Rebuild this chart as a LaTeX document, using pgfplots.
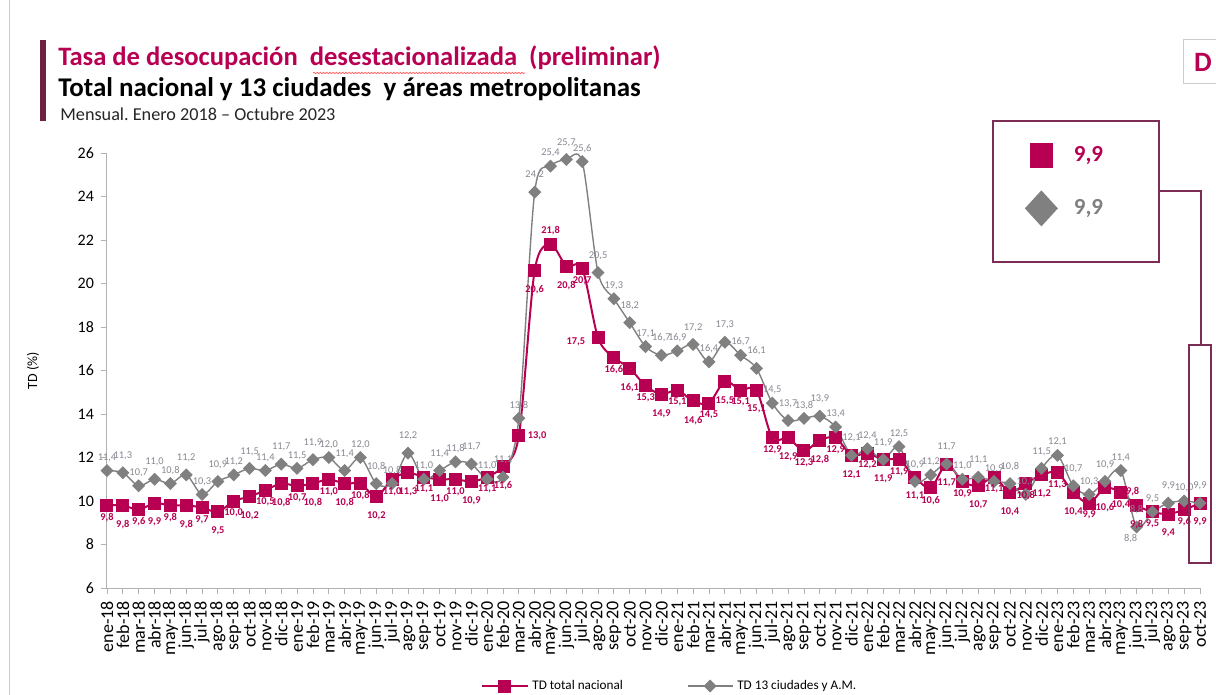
\documentclass[border=0pt]{standalone}
\usepackage{fontspec}
\setmainfont{Carlito}
\usepackage{pgfplots}
\pgfplotsset{compat=1.18}
\usepackage{pgfplotstable}
\usetikzlibrary{decorations.pathmorphing}
\definecolor{crim}{RGB}{184,0,82}
\definecolor{grayl}{RGB}{128,128,128}
\definecolor{lblgray}{RGB}{135,135,145}
\definecolor{maroon}{RGB}{125,45,85}
\definecolor{barc}{RGB}{110,33,66}
\pgfkeys{/pgf/number format/assume math mode=true}
\frenchspacing

\pgfplotstableread{
x tn c13
0 9.8 11.4
1 9.8 11.3
2 9.6 10.7
3 9.9 11.0
4 9.8 10.8
5 9.8 11.2
6 9.7 10.3
7 9.5 10.9
8 10.0 11.2
9 10.2 11.5
10 10.5 11.4
11 10.8 11.7
12 10.7 11.5
13 10.8 11.9
14 11.0 12.0
15 10.8 11.4
16 10.8 12.0
17 10.2 10.8
18 11.0 10.8
19 11.3 12.2
20 11.1 11.0
21 11.0 11.4
22 11.0 11.8
23 10.9 11.7
24 11.1 11.0
25 11.6 11.1
26 13.0 13.8
27 20.6 24.2
28 21.8 25.4
29 20.8 25.7
30 20.7 25.6
31 17.5 20.5
32 16.6 19.3
33 16.1 18.2
34 15.3 17.1
35 14.9 16.7
36 15.1 16.9
37 14.6 17.2
38 14.5 16.4
39 15.5 17.3
40 15.1 16.7
41 15.1 16.1
42 12.9 14.5
43 12.9 13.7
44 12.3 13.8
45 12.8 13.9
46 12.9 13.4
47 12.1 12.1
48 12.2 12.4
49 11.9 11.9
50 11.9 12.5
51 11.1 10.9
52 10.6 11.2
53 11.7 11.7
54 10.9 11.0
55 10.7 11.1
56 11.1 10.9
57 10.4 10.8
58 10.8 10.3
59 11.2 11.5
60 11.3 12.1
61 10.4 10.7
62 9.9 10.3
63 10.6 10.9
64 10.4 11.4
65 9.8 8.8
66 9.5 9.5
67 9.4 9.9
68 9.6 10.0
69 9.9 9.9
}\datatab

\pgfplotsset{
  lblbase/.style={draw=none, mark=none, forget plot,
    nodes near coords={\pgfmathprintnumber[fixed,fixed zerofill,precision=1,use comma]{\pgfplotspointmeta}}},
  tnlbl/.style={lblbase,
    every node near coord/.append style={text=crim, font=\bfseries\fontsize{5.2}{6}\selectfont, inner sep=0.3pt}},
  cclbl/.style={lblbase,
    every node near coord/.append style={text=lblgray, font=\fontsize{5.2}{6}\selectfont, inner sep=0.3pt, anchor=south}},
}

\begin{document}
\begin{tikzpicture}
\path[use as bounding box] (0,0) rectangle (608pt,-347.5pt);

\begin{axis}[
  at={(53.5pt,-294pt)}, anchor=south west,
  scale only axis, width=546.5pt, height=217.5pt,
  xmin=0, xmax=69, ymin=6, ymax=26,
  axis x line*=bottom, axis y line*=left,
  axis line style={draw=gray!60, line width=0.5pt, -},
  tick style={draw=gray!60, line width=0.4pt},
  tick align=outside, major tick length=3pt,
  xtick={0,...,69},
  xticklabels={ene-18,feb-18,mar-18,abr-18,may-18,jun-18,jul-18,ago-18,sep-18,oct-18,nov-18,dic-18,
    ene-19,feb-19,mar-19,abr-19,may-19,jun-19,jul-19,ago-19,sep-19,oct-19,nov-19,dic-19,
    ene-20,feb-20,mar-20,abr-20,may-20,jun-20,jul-20,ago-20,sep-20,oct-20,nov-20,dic-20,
    ene-21,feb-21,mar-21,abr-21,may-21,jun-21,jul-21,ago-21,sep-21,oct-21,nov-21,dic-21,
    ene-22,feb-22,mar-22,abr-22,may-22,jun-22,jul-22,ago-22,sep-22,oct-22,nov-22,dic-22,
    ene-23,feb-23,mar-23,abr-23,may-23,jun-23,jul-23,ago-23,sep-23,oct-23},
  xticklabel style={rotate=90, anchor=east, font=\fontsize{9}{10}\selectfont},
  ytick={6,8,...,26},
  yticklabel style={font=\fontsize{8}{9}\selectfont},
  ylabel={TD (\%)},
  ylabel style={at={(axis description cs:-0.0677,0.5)}, anchor=center, font=\fontsize{7}{8}\selectfont},
  clip=false,
  legend columns=2,
  legend style={at={(0.3367,-0.2253)}, anchor=west, draw=none, fill=none,
    font=\fontsize{6.6}{7}\selectfont,
    /tikz/every even column/.append style={column sep=30pt}},
  legend image code/.code={\draw[mark repeat=2,mark phase=2,#1] plot coordinates {(0pt,0pt)(11.25pt,0pt)(22.5pt,0pt)};},
]
\addplot[crim, line width=1pt, smooth, tension=0.5, mark=square*, mark size=2.75pt,
  mark options={solid, fill=crim, draw=crim}]
  table[x=x, y=tn] {\datatab};
\addlegendentry{TD total nacional}
\addplot[grayl, line width=0.7pt, smooth, tension=0.5, mark=square*, mark size=1.95pt,
  mark options={solid, fill=grayl, draw=grayl, rotate=45}]
  table[x=x, y=c13] {\datatab};
\addlegendentry{TD 13 ciudades y A.M.}
% labels of the 13-city series
\addplot[cclbl, x filter/.expression={(mod(x,2)==1 || x==65) ? nan : x},
  every node near coord/.append style={yshift=4pt}]
  table[x=x, y=c13] {\datatab};
\addplot[cclbl, x filter/.expression={(mod(x,2)==0) ? nan : x},
  every node near coord/.append style={yshift=6pt}]
  table[x=x, y=c13] {\datatab};
\addplot[cclbl, every node near coord/.append style={anchor=north, yshift=-3pt, xshift=-3pt}]
  coordinates {(65,8.8)};
% labels of the national series
\addplot[tnlbl, x filter/.expression={(mod(x,2)==1 || x==26 || x==28 || x==65) ? nan : x},
  every node near coord/.append style={anchor=north, yshift=-3.5pt}]
  table[x=x, y=tn] {\datatab};
\addplot[tnlbl, x filter/.expression={(mod(x,2)==0 || x==31) ? nan : x},
  every node near coord/.append style={anchor=north, yshift=-7pt}]
  table[x=x, y=tn] {\datatab};
\addplot[tnlbl, every node near coord/.append style={anchor=west, xshift=4pt}]
  coordinates {(26,13.0)};
\addplot[tnlbl, every node near coord/.append style={anchor=south, yshift=4pt}]
  coordinates {(28,21.8)};
\addplot[tnlbl, every node near coord/.append style={anchor=east, xshift=-6pt, yshift=-2pt}]
  coordinates {(31,17.5)};
\addplot[tnlbl, every node near coord/.append style={anchor=south, yshift=4pt, xshift=-2pt}]
  coordinates {(65,9.8)};
\end{axis}

\begin{axis}[
  at={(53.5pt,-294pt)}, anchor=south west,
  scale only axis, width=546.5pt, height=217.5pt,
  xmin=0, xmax=69, ymin=6, ymax=26, hide axis,
  legend cell align=left,
  legend style={at={(0.8394,1.0414)}, anchor=north west, draw=none, fill=none,
    font=\bfseries\fontsize{11.5}{12}\selectfont, row sep=6.5pt, inner sep=0pt,
    /tikz/every odd column/.append style={column sep=6pt}},
]
\addplot[draw=none, legend image code/.code={\path (-8.25pt,-10pt) rectangle (8.25pt,10pt); \fill[crim] (-5.75pt,-6.4pt) rectangle (5.75pt,6.4pt);}]
  coordinates {(69,9.9)};
\addlegendentry{\textcolor{crim}{9,9}}
\addplot[draw=none, legend image code/.code={\path (-8.25pt,-10pt) rectangle (8.25pt,10pt); \fill[grayl] (0,-9pt) -- (8.25pt,0) -- (0,9pt) -- (-8.25pt,0) -- cycle;}]
  coordinates {(69,9.9)};
\addlegendentry{\textcolor{grayl}{9,9}}
\end{axis}

\begin{scope}[x=0.5pt,y=-0.5pt]
  \draw[gray!40, line width=0.5pt] (9,0) -- (9,695);
  \fill[barc] (40,40) rectangle (46,121);
  \node[anchor=base west, inner sep=0pt, text=crim, font=\bfseries\fontsize{13.3}{15}\selectfont] at (58,66) {Tasa de desocupación\ \ desestacionalizada\ \ (preliminar)};
  \node[anchor=base west, inner sep=0pt, text=black, font=\bfseries\fontsize{13.5}{15}\selectfont] at (58,97) {Total nacional y 13 ciudades\ \ y áreas metropolitanas};
  \node[anchor=base west, inner sep=0pt, text=black!85, font=\fontsize{9.1}{11}\selectfont] at (60,121) {Mensual. Enero 2018 – Octubre 2023};
  \draw[red!60, line width=0.4pt, decorate, decoration={snake, amplitude=0.35pt, segment length=1.6pt}] (313,73) -- (525,73);
  \draw[gray!40, line width=0.5pt] (1183,40) -- (1216,40) (1183,40) -- (1183,84) -- (1216,84);
  \node[text=crim, font=\bfseries\fontsize{14}{16}\selectfont, inner sep=0pt] at (1203,62) {D};
  \draw[maroon, line width=0.6pt] (993,121) rectangle (1159,262);
  \draw[maroon, line width=0.6pt] (1159,191) -- (1201,191) -- (1201,345);
  \draw[maroon, line width=0.6pt] (1189,345) rectangle (1211,563);
\end{scope}
\end{tikzpicture}
\end{document}
